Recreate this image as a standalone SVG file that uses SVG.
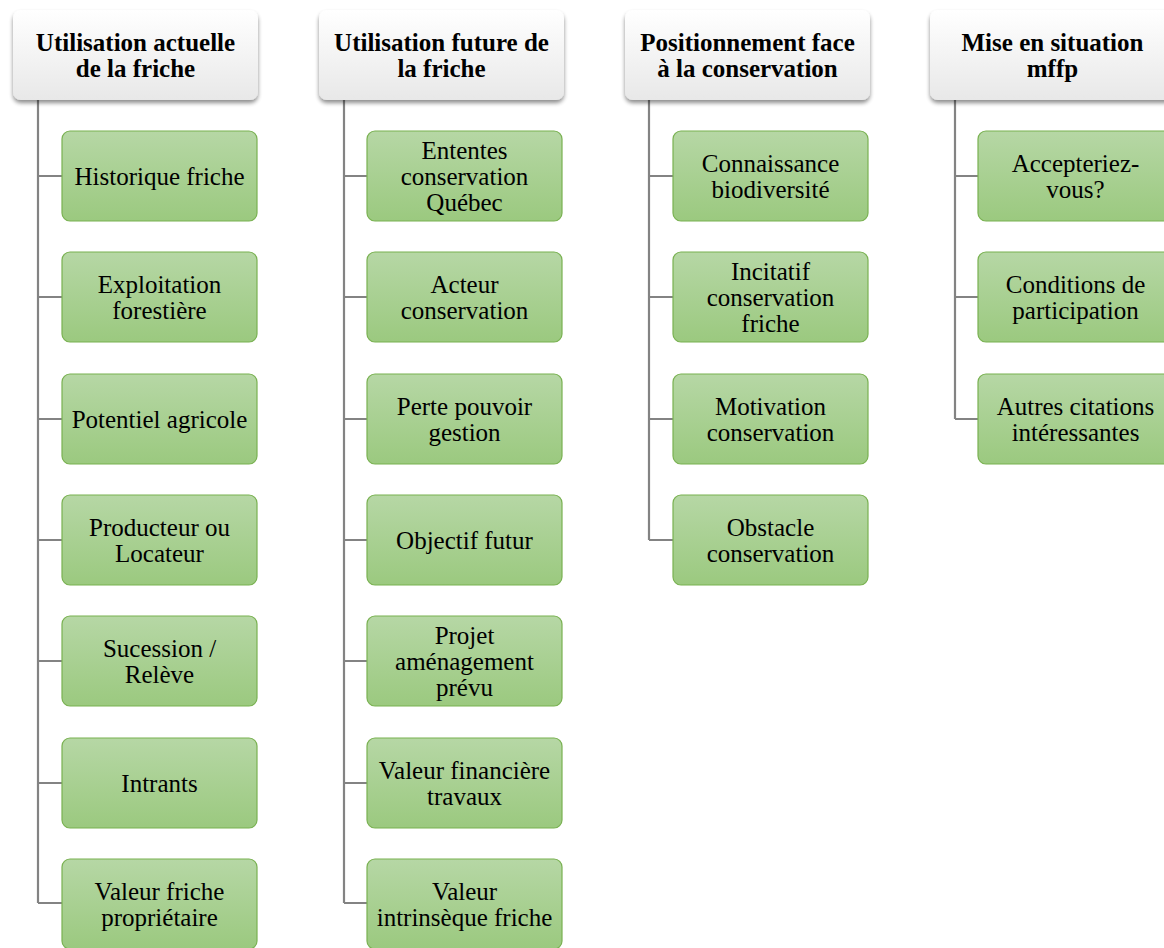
<svg xmlns="http://www.w3.org/2000/svg" width="1164" height="948" viewBox="0 0 1164 948">
<rect width="1164" height="948" fill="#ffffff"/>
<defs>
<linearGradient id="gh" x1="0" y1="0" x2="0" y2="1"><stop offset="0" stop-color="#ffffff"/><stop offset="1" stop-color="#e8e8e8"/></linearGradient>
<linearGradient id="gc" x1="0" y1="0" x2="0" y2="1"><stop offset="0" stop-color="#b6d7a5"/><stop offset="1" stop-color="#9bc97f"/></linearGradient>
<filter id="sh" x="-10%" y="-10%" width="120%" height="130%"><feGaussianBlur in="SourceAlpha" stdDeviation="2"/><feOffset dx="0" dy="3"/><feComponentTransfer><feFuncA type="linear" slope="0.45"/></feComponentTransfer><feMerge><feMergeNode/><feMergeNode in="SourceGraphic"/></feMerge></filter>
</defs>
<g id="connectors" fill="none" stroke="#838383" stroke-width="2.2">
<path d="M38 100V903M38 176H62M38 297H62M38 419H62M38 540H62M38 661H62M38 783H62M38 903H62"/>
<path d="M344 100V903M344 176H367M344 297H367M344 419H367M344 540H367M344 661H367M344 783H367M344 903H367"/>
<path d="M649 100V540M649 176H673M649 297H673M649 419H673M649 540H673"/>
<path d="M955 100V419M955 176H978M955 297H978M955 419H978"/>
</g>
<g id="headers" fill="url(#gh)" filter="url(#sh)">
<rect id="h1" x="13" y="10" width="245" height="90" rx="8"/>
<rect id="h2" x="319" y="10" width="245" height="90" rx="8"/>
<rect id="h3" x="625" y="10" width="245" height="90" rx="8"/>
<rect id="h4" x="930" y="10" width="245" height="90" rx="8"/>
</g>
<g id="header-text">
<text style="font-family:'Liberation Serif',serif;font-size:25px;font-weight:bold;text-anchor:middle;fill:#000" x="135.5" y="51">Utilisation actuelle</text>
<text style="font-family:'Liberation Serif',serif;font-size:25px;font-weight:bold;text-anchor:middle;fill:#000" x="135.5" y="77">de la friche</text>
<text style="font-family:'Liberation Serif',serif;font-size:25px;font-weight:bold;text-anchor:middle;fill:#000" x="441.5" y="51">Utilisation future de</text>
<text style="font-family:'Liberation Serif',serif;font-size:25px;font-weight:bold;text-anchor:middle;fill:#000" x="441.5" y="77">la friche</text>
<text style="font-family:'Liberation Serif',serif;font-size:25px;font-weight:bold;text-anchor:middle;fill:#000" x="747.5" y="51">Positionnement face</text>
<text style="font-family:'Liberation Serif',serif;font-size:25px;font-weight:bold;text-anchor:middle;fill:#000" x="747.5" y="77">à la conservation</text>
<text style="font-family:'Liberation Serif',serif;font-size:25px;font-weight:bold;text-anchor:middle;fill:#000" x="1052.5" y="51">Mise en situation</text>
<text style="font-family:'Liberation Serif',serif;font-size:25px;font-weight:bold;text-anchor:middle;fill:#000" x="1052.5" y="77">mffp</text>
</g>
<g id="children" fill="url(#gc)" stroke="#79b151" stroke-width="1.2">
<rect id="c1a" x="62" y="131" width="195" height="90" rx="8"/>
<rect id="c1b" x="62" y="252" width="195" height="90" rx="8"/>
<rect id="c1c" x="62" y="374" width="195" height="90" rx="8"/>
<rect id="c1d" x="62" y="495" width="195" height="90" rx="8"/>
<rect id="c1e" x="62" y="616" width="195" height="90" rx="8"/>
<rect id="c1f" x="62" y="738" width="195" height="90" rx="8"/>
<rect id="c1g" x="62" y="859" width="195" height="90" rx="8"/>
<rect id="c2a" x="367" y="131" width="195" height="90" rx="8"/>
<rect id="c2b" x="367" y="252" width="195" height="90" rx="8"/>
<rect id="c2c" x="367" y="374" width="195" height="90" rx="8"/>
<rect id="c2d" x="367" y="495" width="195" height="90" rx="8"/>
<rect id="c2e" x="367" y="616" width="195" height="90" rx="8"/>
<rect id="c2f" x="367" y="738" width="195" height="90" rx="8"/>
<rect id="c2g" x="367" y="859" width="195" height="90" rx="8"/>
<rect id="c3a" x="673" y="131" width="195" height="90" rx="8"/>
<rect id="c3b" x="673" y="252" width="195" height="90" rx="8"/>
<rect id="c3c" x="673" y="374" width="195" height="90" rx="8"/>
<rect id="c3d" x="673" y="495" width="195" height="90" rx="8"/>
<rect id="c4a" x="978" y="131" width="195" height="90" rx="8"/>
<rect id="c4b" x="978" y="252" width="195" height="90" rx="8"/>
<rect id="c4c" x="978" y="374" width="195" height="90" rx="8"/>
</g>
<g id="child-text">
<text style="font-family:'Liberation Serif',serif;font-size:25px;text-anchor:middle;fill:#000" x="159.5" y="185">Historique friche</text>
<text style="font-family:'Liberation Serif',serif;font-size:25px;text-anchor:middle;fill:#000" x="159.5" y="293">Exploitation</text>
<text style="font-family:'Liberation Serif',serif;font-size:25px;text-anchor:middle;fill:#000" x="159.5" y="319">forestière</text>
<text style="font-family:'Liberation Serif',serif;font-size:25px;text-anchor:middle;fill:#000" x="159.5" y="428">Potentiel agricole</text>
<text style="font-family:'Liberation Serif',serif;font-size:25px;text-anchor:middle;fill:#000" x="159.5" y="536">Producteur ou</text>
<text style="font-family:'Liberation Serif',serif;font-size:25px;text-anchor:middle;fill:#000" x="159.5" y="562">Locateur</text>
<text style="font-family:'Liberation Serif',serif;font-size:25px;text-anchor:middle;fill:#000" x="159.5" y="657">Sucession /</text>
<text style="font-family:'Liberation Serif',serif;font-size:25px;text-anchor:middle;fill:#000" x="159.5" y="683">Relève</text>
<text style="font-family:'Liberation Serif',serif;font-size:25px;text-anchor:middle;fill:#000" x="159.5" y="792">Intrants</text>
<text style="font-family:'Liberation Serif',serif;font-size:25px;text-anchor:middle;fill:#000" x="159.5" y="900">Valeur friche</text>
<text style="font-family:'Liberation Serif',serif;font-size:25px;text-anchor:middle;fill:#000" x="159.5" y="926">propriétaire</text>
<text style="font-family:'Liberation Serif',serif;font-size:25px;text-anchor:middle;fill:#000" x="464.5" y="159">Ententes</text>
<text style="font-family:'Liberation Serif',serif;font-size:25px;text-anchor:middle;fill:#000" x="464.5" y="185">conservation</text>
<text style="font-family:'Liberation Serif',serif;font-size:25px;text-anchor:middle;fill:#000" x="464.5" y="211">Québec</text>
<text style="font-family:'Liberation Serif',serif;font-size:25px;text-anchor:middle;fill:#000" x="464.5" y="293">Acteur</text>
<text style="font-family:'Liberation Serif',serif;font-size:25px;text-anchor:middle;fill:#000" x="464.5" y="319">conservation</text>
<text style="font-family:'Liberation Serif',serif;font-size:25px;text-anchor:middle;fill:#000" x="464.5" y="415">Perte pouvoir</text>
<text style="font-family:'Liberation Serif',serif;font-size:25px;text-anchor:middle;fill:#000" x="464.5" y="441">gestion</text>
<text style="font-family:'Liberation Serif',serif;font-size:25px;text-anchor:middle;fill:#000" x="464.5" y="549">Objectif futur</text>
<text style="font-family:'Liberation Serif',serif;font-size:25px;text-anchor:middle;fill:#000" x="464.5" y="644">Projet</text>
<text style="font-family:'Liberation Serif',serif;font-size:25px;text-anchor:middle;fill:#000" x="464.5" y="670">aménagement</text>
<text style="font-family:'Liberation Serif',serif;font-size:25px;text-anchor:middle;fill:#000" x="464.5" y="696">prévu</text>
<text style="font-family:'Liberation Serif',serif;font-size:25px;text-anchor:middle;fill:#000" x="464.5" y="779">Valeur financière</text>
<text style="font-family:'Liberation Serif',serif;font-size:25px;text-anchor:middle;fill:#000" x="464.5" y="805">travaux</text>
<text style="font-family:'Liberation Serif',serif;font-size:25px;text-anchor:middle;fill:#000" x="464.5" y="900">Valeur</text>
<text style="font-family:'Liberation Serif',serif;font-size:25px;text-anchor:middle;fill:#000" x="464.5" y="926">intrinsèque friche</text>
<text style="font-family:'Liberation Serif',serif;font-size:25px;text-anchor:middle;fill:#000" x="770.5" y="172">Connaissance</text>
<text style="font-family:'Liberation Serif',serif;font-size:25px;text-anchor:middle;fill:#000" x="770.5" y="198">biodiversité</text>
<text style="font-family:'Liberation Serif',serif;font-size:25px;text-anchor:middle;fill:#000" x="770.5" y="280">Incitatif</text>
<text style="font-family:'Liberation Serif',serif;font-size:25px;text-anchor:middle;fill:#000" x="770.5" y="306">conservation</text>
<text style="font-family:'Liberation Serif',serif;font-size:25px;text-anchor:middle;fill:#000" x="770.5" y="332">friche</text>
<text style="font-family:'Liberation Serif',serif;font-size:25px;text-anchor:middle;fill:#000" x="770.5" y="415">Motivation</text>
<text style="font-family:'Liberation Serif',serif;font-size:25px;text-anchor:middle;fill:#000" x="770.5" y="441">conservation</text>
<text style="font-family:'Liberation Serif',serif;font-size:25px;text-anchor:middle;fill:#000" x="770.5" y="536">Obstacle</text>
<text style="font-family:'Liberation Serif',serif;font-size:25px;text-anchor:middle;fill:#000" x="770.5" y="562">conservation</text>
<text style="font-family:'Liberation Serif',serif;font-size:25px;text-anchor:middle;fill:#000" x="1075.5" y="172">Accepteriez-</text>
<text style="font-family:'Liberation Serif',serif;font-size:25px;text-anchor:middle;fill:#000" x="1075.5" y="198">vous?</text>
<text style="font-family:'Liberation Serif',serif;font-size:25px;text-anchor:middle;fill:#000" x="1075.5" y="293">Conditions de</text>
<text style="font-family:'Liberation Serif',serif;font-size:25px;text-anchor:middle;fill:#000" x="1075.5" y="319">participation</text>
<text style="font-family:'Liberation Serif',serif;font-size:25px;text-anchor:middle;fill:#000" x="1075.5" y="415">Autres citations</text>
<text style="font-family:'Liberation Serif',serif;font-size:25px;text-anchor:middle;fill:#000" x="1075.5" y="441">intéressantes</text>
</g>
</svg>
